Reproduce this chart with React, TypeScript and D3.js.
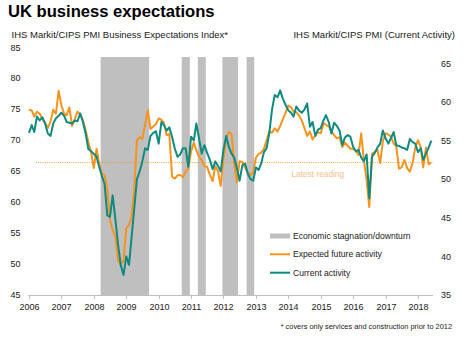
import React from "react";
import * as d3 from "d3";

const expectations: number[] = [
  74.9, 74.8, 73.8, 74.6, 74.3, 73.4, 72.8, 72.0, 73.0, 74.9, 74.3, 78.0,
  75.6, 74.3, 74.0, 75.3, 72.3, 73.4, 74.6, 74.2, 73.2, 71.6, 69.7, 68.1,
  65.5, 68.6, 66.3, 64.6, 64.4, 62.2, 57.1, 55.5, 54.4, 50.6, 49.8, 50.6,
  55.8, 56.3, 57.6, 62.0, 70.0, 70.5, 70.2, 72.5, 74.8, 71.8, 72.2, 72.6,
  73.5, 73.3, 72.8, 70.8, 71.0, 64.1, 63.8, 64.3, 64.4, 64.0, 64.9, 65.5,
  68.2, 69.6, 68.4, 67.3, 66.8, 65.8, 65.7, 64.4, 63.4, 65.8, 65.0, 62.6,
  67.0, 70.3, 71.3, 71.0, 66.2, 63.2, 66.6, 66.5, 65.6, 64.8, 64.4, 64.8,
  67.2, 67.8, 68.0, 68.6, 70.0, 71.4, 71.2, 71.9, 71.4, 72.3, 73.4, 74.4,
  75.6, 75.3, 74.6, 74.5, 74.0, 73.2, 72.0, 70.7, 71.4, 70.1, 70.8, 71.3,
  71.1, 72.7, 72.5, 72.2, 71.5, 70.8, 70.3, 70.5, 68.9, 69.6, 69.1, 68.6,
  68.6, 68.3, 67.6, 71.1, 66.8, 63.5, 59.2, 67.8, 68.1, 68.4, 66.3, 69.8,
  71.1, 70.9, 70.6, 69.5, 69.0, 65.4, 65.6, 66.8, 65.5, 64.9, 66.3, 68.8,
  70.0, 68.8, 65.6, 68.8, 66.1, 66.4,
];

const currentActivity: number[] = [
  56.0, 57.0, 56.1, 58.1, 57.6, 58.0, 57.2, 55.9, 55.6, 57.2, 57.9, 58.2,
  58.6, 58.2, 57.4, 57.3, 57.2, 57.6, 57.5, 58.5, 57.4, 55.9, 53.9, 53.6,
  53.3, 52.9, 51.6, 50.4, 49.4, 45.3, 45.1, 47.9, 44.7, 41.5, 38.8, 37.6,
  40.0, 38.9, 42.4, 46.2, 50.0, 51.0, 52.3, 54.0, 53.8, 55.6, 56.0, 56.2,
  54.6, 57.4, 57.0, 56.3, 56.7, 55.5, 54.0, 52.9, 53.2, 54.0, 54.0, 51.6,
  55.5, 55.0, 57.2, 55.3, 53.3, 54.4, 53.4, 52.5, 51.3, 52.3, 51.7, 51.0,
  53.8, 55.6, 54.2, 53.3, 52.8, 51.4, 49.8, 51.8, 52.0, 50.7, 50.0, 49.8,
  51.5, 51.2, 52.0, 53.5, 54.0, 56.0, 59.0, 60.9, 60.6, 61.5, 60.4, 59.6,
  58.9, 58.6, 58.1, 59.4, 58.9, 58.6, 59.0, 59.8, 56.8, 57.4, 55.6, 56.4,
  56.6, 57.6, 58.3, 57.4, 55.9, 57.3, 56.9, 56.3, 54.4, 55.4, 55.7, 55.5,
  54.2, 53.6, 53.8, 52.8, 52.3, 53.2, 47.5, 52.9, 53.4, 54.1, 54.6, 56.3,
  55.3, 54.6, 55.3, 56.1, 54.4, 54.3, 54.1, 54.0, 53.8, 55.2, 54.8, 54.6,
  53.5, 54.0, 52.5, 53.3, 54.1, 55.0,
];

const startYear = 2006;
const yearTicks: number[] = [2006, 2007, 2008, 2009, 2010, 2011, 2012, 2013, 2014, 2015, 2016, 2017, 2018];
const leftTicks: number[] = [45, 50, 55, 60, 65, 70, 75, 80, 85];
const rightTicks: number[] = [35, 40, 45, 50, 55, 60, 65];

const downturnStart: string[] = ["2008-03-18", "2010-09-18", "2011-03-18", "2011-12-20", "2012-09-18"];
const downturnEnd: string[] = ["2009-09-15", "2010-12-18", "2011-06-16", "2012-06-14", "2012-12-12"];

const seriesNames: string[] = ["Economic stagnation/downturn", "Expected future activity", "Current activity"];

const ORANGE = "#F7931E";
const TEAL = "#0E8A7F";
const GREY = "#BFBFBF";
const FONT = "'Liberation Sans', Arial, Helvetica, sans-serif";

export default function App() {
  const W = 472;
  const H = 342;
  const dates = expectations.map((_, i) => new Date(startYear, i, 1));
  const x = d3
    .scaleTime()
    .domain([new Date(2006, 0, 1), new Date(2018, 0, 1)])
    .range([29, 418]);
  const yL = d3.scaleLinear().domain([45, 85]).range([295, 47.3]);
  const yR = d3.scaleLinear().domain([35, 65]).range([295, 63.3]);
  const plotTop = 57;
  const plotBottom = 295;

  const lineL = d3
    .line<number>()
    .x((_, i) => x(dates[i]))
    .y((d) => yL(d));
  const lineR = d3
    .line<number>()
    .x((_, i) => x(dates[i]))
    .y((d) => yR(d));

  const latest = expectations[expectations.length - 1];
  const lastX = x(dates[dates.length - 1]);
  const parse = d3.timeParse("%Y-%m-%d");

  return (
    <svg
      width={W}
      height={H}
      style={{ position: "absolute", left: 0, top: 0, background: "#fff" }}
      fontFamily={FONT}
    >
      <rect x={0} y={0} width={W} height={H} fill="#fff" />
      <text x={8} y={17} fontSize={16.6} fontWeight="bold" fill="#000">
        UK business expectations
      </text>
      <text x={11.5} y={37.5} fontSize={9.5} fill="#1a1a1a">
        IHS Markit/CIPS PMI Business Expectations Index*
      </text>
      <text x={455} y={37.5} fontSize={9.5} fill="#1a1a1a" textAnchor="end">
        IHS Markit/CIPS PMI (Current Activity)
      </text>

      {downturnStart.map((s, i) => {
        const x0 = x(parse(s) as Date);
        const x1 = x(parse(downturnEnd[i]) as Date);
        return (
          <rect key={s} x={x0} y={plotTop} width={x1 - x0} height={plotBottom - plotTop} fill={GREY} />
        );
      })}

      <line
        x1={36}
        x2={lastX + 1}
        y1={yL(latest)}
        y2={yL(latest)}
        stroke={ORANGE}
        strokeWidth={1}
        strokeDasharray="1,1.2"
        opacity={0.85}
      />
      <text x={291.5} y={177} fontSize={8.3} fill="#FAC08A">
        Latest reading
      </text>

      <path d={lineL(expectations) || ""} fill="none" stroke={ORANGE} strokeWidth={2} strokeLinejoin="round" />
      <path d={lineR(currentActivity) || ""} fill="none" stroke={TEAL} strokeWidth={2} strokeLinejoin="round" />

      <line x1={28} x2={433} y1={plotBottom + 0.5} y2={plotBottom + 0.5} stroke={GREY} strokeWidth={1} />
      {yearTicks.map((yr) => {
        const xx = Math.round(x(new Date(yr, 0, 1))) + 0.5;
        return (
          <g key={yr}>
            <line x1={xx} x2={xx} y1={plotBottom} y2={plotBottom + 4} stroke={GREY} strokeWidth={1} />
            <text x={xx} y={310} fontSize={9} textAnchor="middle" fill="#1a1a1a">
              {yr}
            </text>
          </g>
        );
      })}

      {leftTicks.map((t) => (
        <text key={t} x={20.5} y={yL(t) + 3.2} fontSize={9} textAnchor="end" fill="#1a1a1a">
          {t}
        </text>
      ))}
      {rightTicks.map((t) => (
        <text key={t} x={441} y={yR(t) + 3.2} fontSize={9} textAnchor="start" fill="#1a1a1a">
          {t}
        </text>
      ))}

      <line x1={270} x2={290} y1={236} y2={236} stroke={GREY} strokeWidth={5} />
      <line x1={270} x2={290} y1={254.3} y2={254.3} stroke={ORANGE} strokeWidth={2} />
      <line x1={270} x2={290} y1={272.7} y2={272.7} stroke={TEAL} strokeWidth={2} />
      <text x={293} y={239} fontSize={8.6} fill="#1a1a1a">
        {seriesNames[0]}
      </text>
      <text x={293} y={257.3} fontSize={8.6} fill="#1a1a1a">
        {seriesNames[1]}
      </text>
      <text x={293} y={275.7} fontSize={8.6} fill="#1a1a1a">
        {seriesNames[2]}
      </text>

      <text x={452} y={329} fontSize={7.4} textAnchor="end" fill="#1a1a1a">
        * covers only services and construction prior to 2012
      </text>
    </svg>
  );
}
